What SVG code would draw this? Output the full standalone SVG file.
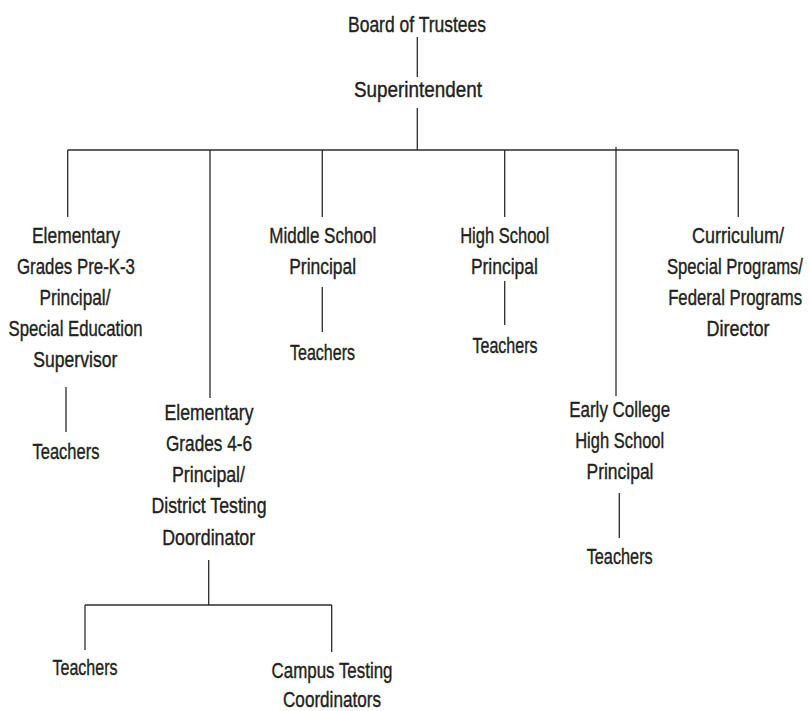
<svg xmlns="http://www.w3.org/2000/svg" width="810" height="711" viewBox="0 0 810 711">
<style>
text{font-family:"Liberation Sans",Arial,sans-serif;font-size:22px;fill:#231f20;stroke:#231f20;stroke-width:0.4;text-anchor:middle}
text.r{text-anchor:end}
.c line{stroke:#2b2b2b;stroke-width:1.3}
</style>
<rect width="810" height="711" fill="#fff"/>
<g class="c" id="connectors">
<line x1="417.3" y1="37" x2="417.3" y2="77"/>
<line x1="417.3" y1="108" x2="417.3" y2="150"/>
<line x1="67.7" y1="150" x2="738.3" y2="150"/>
<line x1="67.7" y1="150" x2="67.7" y2="217"/>
<line x1="210" y1="150" x2="210" y2="398"/>
<line x1="322.3" y1="150" x2="322.3" y2="217"/>
<line x1="504.7" y1="150" x2="504.7" y2="217"/>
<line x1="616" y1="147" x2="616" y2="396"/>
<line x1="738.3" y1="150" x2="738.3" y2="217"/>
<line x1="66" y1="387" x2="66" y2="432"/>
<line x1="322.3" y1="287" x2="322.3" y2="332"/>
<line x1="504.7" y1="281" x2="504.7" y2="325"/>
<line x1="619.3" y1="493" x2="619.3" y2="538"/>
<line x1="208.7" y1="560" x2="208.7" y2="605"/>
<line x1="85" y1="605" x2="331.7" y2="605"/>
<line x1="85" y1="605" x2="85" y2="650"/>
<line x1="331.7" y1="605" x2="331.7" y2="652"/>
</g>
<g id="board"><text x="417" y="32" textLength="138" lengthAdjust="spacingAndGlyphs">Board of Trustees</text></g>
<g id="superintendent"><text x="418" y="97" textLength="128" lengthAdjust="spacingAndGlyphs">Superintendent</text></g>
<g id="elem-prek3">
<text x="76" y="243" textLength="88" lengthAdjust="spacingAndGlyphs">Elementary</text>
<text x="76" y="274" textLength="118" lengthAdjust="spacingAndGlyphs">Grades Pre-K-3</text>
<text x="75" y="305" textLength="71" lengthAdjust="spacingAndGlyphs">Principal/</text>
<text x="75.5" y="336" textLength="134" lengthAdjust="spacingAndGlyphs">Special Education</text>
<text x="75.3" y="367" textLength="84" lengthAdjust="spacingAndGlyphs">Supervisor</text>
</g>
<g id="teachers-prek3"><text x="66" y="459" textLength="67" lengthAdjust="spacingAndGlyphs">Teachers</text></g>
<g id="elem-46">
<text x="209" y="420" textLength="89" lengthAdjust="spacingAndGlyphs">Elementary</text>
<text x="209" y="451" textLength="86" lengthAdjust="spacingAndGlyphs">Grades 4-6</text>
<text x="208.5" y="482" textLength="73" lengthAdjust="spacingAndGlyphs">Principal/</text>
<text x="209" y="513" textLength="115" lengthAdjust="spacingAndGlyphs">District Testing</text>
<text x="208.7" y="545" textLength="93" lengthAdjust="spacingAndGlyphs">Doordinator</text>
</g>
<g id="teachers-46"><text x="85" y="675" textLength="65" lengthAdjust="spacingAndGlyphs">Teachers</text></g>
<g id="campus-testing">
<text x="332" y="678" textLength="121" lengthAdjust="spacingAndGlyphs">Campus Testing</text>
<text x="332" y="707" textLength="98" lengthAdjust="spacingAndGlyphs">Coordinators</text>
</g>
<g id="middle-school">
<text x="322.7" y="242.5" textLength="107" lengthAdjust="spacingAndGlyphs">Middle School</text>
<text x="322.7" y="274" textLength="67" lengthAdjust="spacingAndGlyphs">Principal</text>
</g>
<g id="teachers-ms"><text x="322.5" y="360" textLength="65" lengthAdjust="spacingAndGlyphs">Teachers</text></g>
<g id="high-school">
<text x="504.7" y="242.5" textLength="89" lengthAdjust="spacingAndGlyphs">High School</text>
<text x="504.4" y="274" textLength="67" lengthAdjust="spacingAndGlyphs">Principal</text>
</g>
<g id="teachers-hs"><text x="505" y="352.5" textLength="65" lengthAdjust="spacingAndGlyphs">Teachers</text></g>
<g id="curriculum">
<text x="738" y="243" textLength="92" lengthAdjust="spacingAndGlyphs">Curriculum/</text>
<text class="r" transform="translate(803,274) scale(0.757,1)" x="0" y="0">Special Programs/</text>
<text class="r" transform="translate(802,305) scale(0.761,1)" x="0" y="0">Federal Programs</text>
<text x="738" y="336" textLength="63" lengthAdjust="spacingAndGlyphs">Director</text>
</g>
<g id="early-college">
<text x="619.7" y="416.5" textLength="101" lengthAdjust="spacingAndGlyphs">Early College</text>
<text x="619.7" y="448" textLength="89" lengthAdjust="spacingAndGlyphs">High School</text>
<text x="620" y="479" textLength="67" lengthAdjust="spacingAndGlyphs">Principal</text>
</g>
<g id="teachers-ec"><text x="619.7" y="564" textLength="66" lengthAdjust="spacingAndGlyphs">Teachers</text></g>
</svg>
